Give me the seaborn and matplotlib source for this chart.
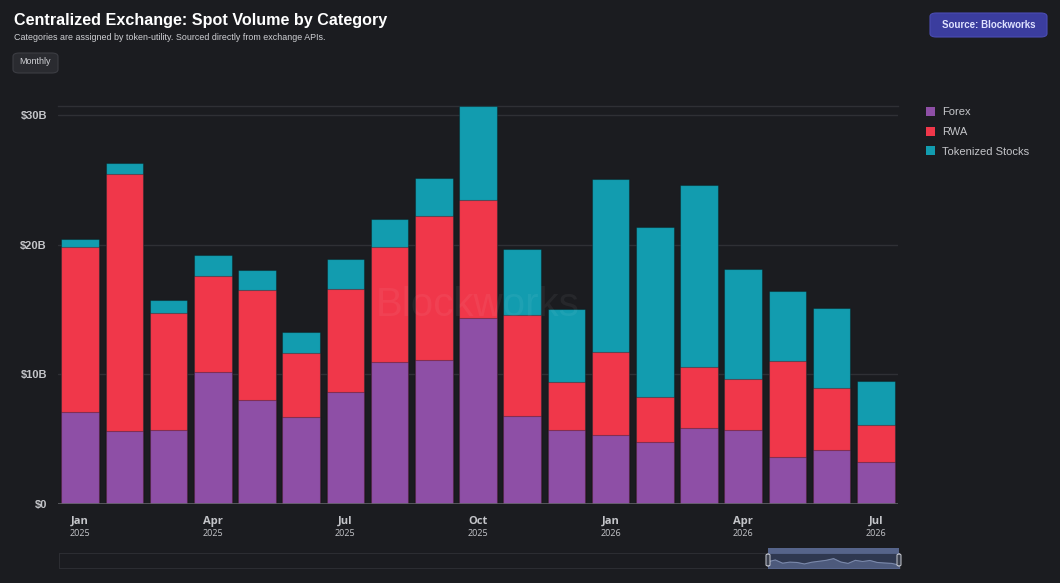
import pandas as pd
import seaborn as sns
import matplotlib.pyplot as plt
from matplotlib.patches import FancyBboxPatch, Rectangle
from matplotlib.transforms import blended_transform_factory

# datos (miles de millones USD)
months = ["Jan", "Feb", "Mar", "Apr", "May", "Jun", "Jul", "Aug", "Sep", "Oct", "Nov", "Dec",
          "Jan", "Feb", "Mar", "Apr", "May", "Jun", "Jul"]
years = ["2025"] * 12 + ["2026"] * 7
forex = [7.07, 5.63, 5.71, 10.20, 8.02, 6.71, 8.61, 10.92, 11.10, 14.32, 6.78, 5.68,
         5.35, 4.75, 5.86, 5.68, 3.62, 4.16, 3.24]
rwa = [12.72, 19.84, 8.99, 7.35, 8.50, 4.91, 7.94, 8.87, 11.13, 9.09, 7.79, 3.70,
       6.34, 3.53, 4.68, 3.93, 7.43, 4.81, 2.83]
tokenized = [0.66, 0.80, 1.03, 1.67, 1.52, 1.62, 2.32, 2.18, 2.88, 7.25, 5.07, 5.63,
             13.37, 13.05, 14.03, 8.53, 5.40, 6.12, 3.44]
categories = ["Forex", "RWA", "Tokenized Stocks"]
colors = {"Forex": "#8e4fa6", "RWA": "#f0374a", "Tokenized Stocks": "#129caf"}
tick_idx = [0, 3, 6, 9, 12, 15, 18]

BG = "#1b1c20"
TXT = "#c4c5c9"

df = pd.DataFrame({"period": [f"{m} {y}" for m, y in zip(months, years)],
                   "Forex": forex, "RWA": rwa, "Tokenized Stocks": tokenized})
# acumulados para apilar
df["cum_Forex"] = df["Forex"]
df["cum_RWA"] = df["cum_Forex"] + df["RWA"]
df["cum_Tokenized Stocks"] = df["cum_RWA"] + df["Tokenized Stocks"]

sns.set_theme(style="dark")
plt.rcParams["font.family"] = ["Liberation Sans", "DejaVu Sans"]

fig = plt.figure(figsize=(10.6, 5.83), dpi=100, facecolor=BG)
ax = fig.add_axes([58 / 1060, 79 / 583, 840 / 1060, 398 / 583])
ax.set_facecolor(BG)

# dibujar de arriba hacia abajo para que se vean apiladas
for cat in reversed(categories):
    sns.barplot(data=df, x="period", y=f"cum_{cat}", color=colors[cat], width=0.85,
                saturation=1, edgecolor=(0, 0, 0, 0.3), linewidth=0.8, ax=ax, zorder=3)

ax.set_xlim(-0.5, len(months) - 0.5)
ax.set_ylim(0, df["cum_Tokenized Stocks"].max() * 1.001)
ax.set_yticks([0, 10, 20, 30])
ax.set_yticklabels(["$0", "$10B", "$20B", "$30B"], color=TXT, fontsize=8, fontweight="bold")
ax.tick_params(axis="y", length=0, pad=8)
ax.tick_params(axis="x", bottom=False, labelbottom=False)
ax.set_xlabel("")
ax.set_ylabel("")
ax.grid(False)
for y in [10, 20, 30]:
    ax.axhline(y, color="#2f3035", lw=1, zorder=1)
ax.axhline(0, color="#606166", lw=1.2, zorder=4)
for s in ["left", "right", "bottom"]:
    ax.spines[s].set_visible(False)
ax.spines["top"].set_color("#2f3035")
ax.spines["top"].set_linewidth(1)

trans = blended_transform_factory(ax.transData, ax.transAxes)
for i in tick_idx:
    ax.text(i, -0.043, months[i], transform=trans, ha="center", va="center",
            fontsize=8, fontweight="bold", color=TXT, family=["Open Sans", "DejaVu Sans"])
    ax.text(i, -0.073, years[i], transform=trans, ha="center", va="center",
            fontsize=6.5, color=TXT, family=["Open Sans", "DejaVu Sans"])

# marca de agua
ax.text(0.5, 0.5, "Blockworks", transform=ax.transAxes, ha="center", va="center",
        fontsize=29, color="white", alpha=0.05, zorder=5)

# leyenda
handles = [Rectangle((0, 0), 1, 1, facecolor=colors[c], edgecolor="none") for c in categories]
fig.legend(handles, categories, loc="upper left", bbox_to_anchor=(926 / 1060, 1 - 107 / 583),
           frameon=False, fontsize=8, labelcolor=TXT, handlelength=0.85, handleheight=0.85,
           handletextpad=0.6, labelspacing=0.85, borderpad=0, borderaxespad=0)

# titulos
fig.text(14 / 1060, 1 - 20 / 583, "Centralized Exchange: Spot Volume by Category",
         ha="left", va="center", fontsize=11.6, fontweight="bold", color="white")
fig.text(14 / 1060, 1 - 38 / 583,
         "Categories are assigned by token-utility. Sourced directly from exchange APIs.",
         ha="left", va="center", fontsize=6.4, color="#d0d1d5")

# boton Monthly
fig.patches.append(FancyBboxPatch((13 / 1060, 1 - 73 / 583), 45 / 1060, 20 / 583,
                                  boxstyle="round,pad=0,rounding_size=0.006",
                                  transform=fig.transFigure, facecolor="#2a2b30",
                                  edgecolor="#3c3d43", lw=0.8))
fig.text(35.5 / 1060, 1 - 62 / 583, "Monthly", ha="center", va="center",
         fontsize=6.5, color="#d0d1d5")

# boton Source
fig.patches.append(FancyBboxPatch((930 / 1060, 1 - 37 / 583), 117 / 1060, 24 / 583,
                                  boxstyle="round,pad=0,rounding_size=0.006",
                                  transform=fig.transFigure, facecolor="#3b3d9e",
                                  edgecolor="#4a4cb2", lw=0.8))
fig.text(988.5 / 1060, 1 - 25 / 583, "Source: Blockworks", ha="center", va="center",
         fontsize=7, fontweight="bold", color="#dfe2ff")

# navegador inferior
nav = fig.add_axes([59 / 1060, 15 / 583, 841 / 1060, 15 / 583])
nav.set_facecolor(BG)
nav.set_xticks([])
nav.set_yticks([])
for s in nav.spines.values():
    s.set_color("#2c2d32")
    s.set_linewidth(0.8)

sel = fig.add_axes([768 / 1060, 15 / 583, 131 / 1060, 15 / 583])
sel.set_facecolor("#2f3850")
sns.lineplot(x=range(len(months)), y=df["cum_Tokenized Stocks"], ax=sel, color="#7a88aa", lw=0.8)
sel.fill_between(range(len(months)), df["cum_Tokenized Stocks"], color="#4d5a7c")
sel.set_xlim(0, len(months) - 1)
sel.set_ylim(0, df["cum_Tokenized Stocks"].max() * 1.6)
sel.set_xticks([])
sel.set_yticks([])
sel.set_xlabel("")
sel.set_ylabel("")
for s in sel.spines.values():
    s.set_color("#5a6890")
    s.set_linewidth(0.6)
fig.patches.append(Rectangle((768 / 1060, 1 - 553 / 583), 131 / 1060, 5 / 583,
                             transform=fig.transFigure, facecolor="#56648a", edgecolor="none"))
for hx in [768, 899]:
    fig.patches.append(FancyBboxPatch(((hx - 2) / 1060, 1 - 566 / 583), 4 / 1060, 12 / 583,
                                      boxstyle="round,pad=0,rounding_size=0.002",
                                      transform=fig.transFigure, facecolor="#3a3f4c",
                                      edgecolor="#c9ccd4", lw=0.7, zorder=10))

fig.savefig("out.png", dpi=100, facecolor=BG)
